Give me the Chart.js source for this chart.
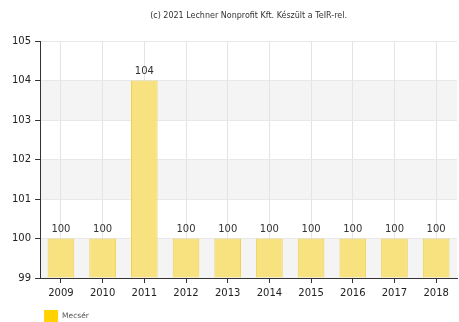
<!DOCTYPE html>
<html>
<head>
<meta charset="utf-8">
<script src="https://cdn.jsdelivr.net/npm/chart.js@4/dist/chart.umd.min.js"></script>
<style>
  body { margin: 0; background: #fff; }
  #wrap { width: 459px; height: 322px; }
</style>
</head>
<body>
<div id="wrap"><canvas id="myChart" width="459" height="322"></canvas></div>
<script>
const years = ['2009', '2010', '2011', '2012', '2013', '2014', '2015', '2016', '2017', '2018']
const mecserValues = [100, 100, 104, 100, 100, 100, 100, 100, 100, 100]
const yTicks = [99, 100, 101, 102, 103, 104, 105]
const shadedBands = [[99, 100], [101, 102], [103, 104]]
const titleText = '(c) 2021 Lechner Nonprofit Kft. Készült a TeIR-rel.'
const legendText = 'Mecsér'

const fontFamily = '"DejaVu Sans", Verdana, sans-serif'

// alternating grey stripes behind the bars
const bandsPlugin = {
  id: 'bands',
  beforeDraw(chart) {
    const { ctx, chartArea, scales } = chart
    ctx.save()
    ctx.fillStyle = '#f4f4f4'
    shadedBands.forEach(([from, to]) => {
      const y1 = scales.y.getPixelForValue(to)
      const y2 = scales.y.getPixelForValue(from)
      ctx.fillRect(chartArea.left, y1, chartArea.right - chartArea.left, y2 - y1)
    })
    ctx.restore()
  }
}

// value over each bar
const valueLabels = {
  id: 'valueLabels',
  afterDatasetsDraw(chart) {
    const { ctx } = chart
    const meta = chart.getDatasetMeta(0)
    ctx.save()
    ctx.font = '10px ' + fontFamily
    ctx.fillStyle = '#333'
    ctx.textAlign = 'center'
    ctx.textBaseline = 'bottom'
    meta.data.forEach((bar, i) => {
      ctx.fillText(String(mecserValues[i]), bar.x, bar.y - 4)
    })
    ctx.restore()
  }
}

// title centred over the plot, legend square in the bottom left
const headerFooter = {
  id: 'headerFooter',
  afterDraw(chart) {
    const { ctx, chartArea } = chart
    ctx.save()
    ctx.font = '8px ' + fontFamily
    ctx.fillStyle = '#333'
    ctx.textAlign = 'center'
    ctx.textBaseline = 'middle'
    ctx.fillText(titleText, (chartArea.left + chartArea.right) / 2, 16)

    ctx.fillStyle = '#ffd200'
    ctx.fillRect(chartArea.left + 4, 310, 14, 12)
    ctx.font = '7.5px ' + fontFamily
    ctx.fillStyle = '#555'
    ctx.textAlign = 'left'
    ctx.fillText(legendText, chartArea.left + 22, 316)
    ctx.restore()
  }
}

const ctx = document.getElementById('myChart').getContext('2d')
new Chart(ctx, {
  type: 'bar',
  data: {
    labels: years,
    datasets: [{
      label: legendText,
      data: mecserValues,
      backgroundColor: 'rgba(248, 224, 120, 0.95)',
      borderColor: 'rgba(240, 210, 80, 1)',
      borderWidth: 1,
      barPercentage: 0.64,
      categoryPercentage: 1,
      base: 99,
    }]
  },
  options: {
    responsive: false,
    animation: false,
    layout: { padding: { left: 8, right: 2, top: 41, bottom: 19 } },
    scales: {
      x: {
        grid: {
          offset: false,
          color: '#e4e4e4',
          tickColor: '#333',
          tickLength: 5,
        },
        border: { color: '#333', width: 1 },
        ticks: { color: '#222', font: { family: fontFamily, size: 10 }, padding: 4 },
      },
      y: {
        min: 99,
        max: 105,
        afterBuildTicks(axis) {
          axis.ticks = yTicks.map(v => ({ value: v }))
        },
        grid: {
          color: '#e8e8e8',
          tickColor: '#333',
          tickLength: 5,
        },
        border: { color: '#333', width: 1 },
        ticks: { color: '#222', font: { family: fontFamily, size: 10 }, padding: 4 },
      }
    },
    plugins: {
      title: { display: false },
      legend: { display: false },
      tooltip: { enabled: false }
    }
  },
  plugins: [bandsPlugin, valueLabels, headerFooter]
})
</script>
</body>
</html>
